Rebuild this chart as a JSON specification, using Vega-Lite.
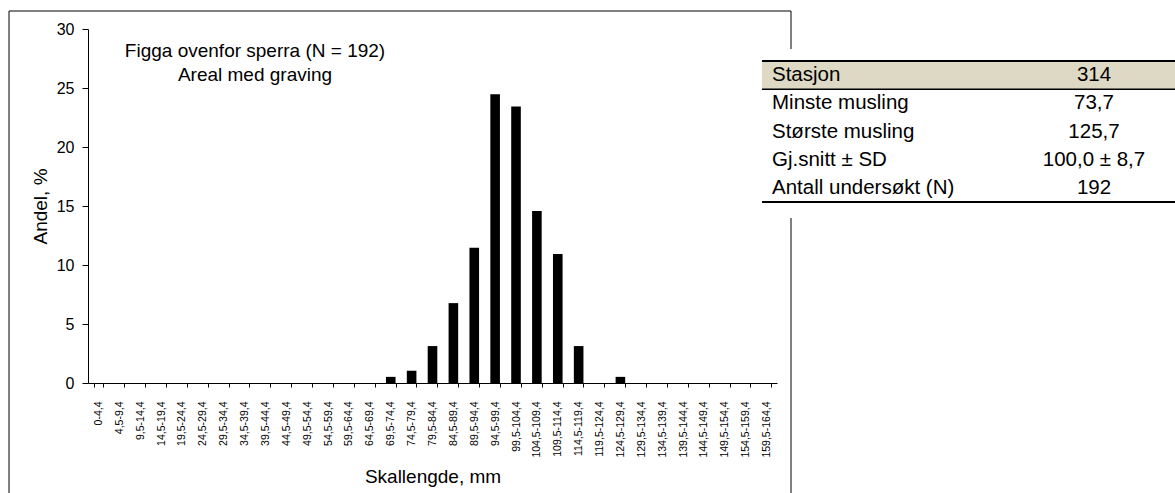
{
  "$schema": "https://vega.github.io/schema/vega-lite/v6.json",
  "width": 782,
  "height": 482,
  "autosize": {"type": "none"},
  "padding": {"left": 9, "top": 11, "right": 384, "bottom": 0},
  "background": "white",
  "config": {"view": {"stroke": null}, "font": "Liberation Sans"},
  "title": {
    "text": ["Figga ovenfor sperra (N = 192)", "Areal med graving"],
    "anchor": "middle",
    "frame": "group",
    "offset": 0,
    "dx": -145,
    "dy": 74,
    "baseline": "top",
    "fontSize": 19,
    "fontWeight": "normal",
    "font": "Liberation Sans",
    "color": "black",
    "lineHeight": 24
  },
  "datasets": {
    "lengder": [
      {"klasse": "0-4,4", "andel": 0},
      {"klasse": "4,5-9,4", "andel": 0},
      {"klasse": "9,5-14,4", "andel": 0},
      {"klasse": "14,5-19,4", "andel": 0},
      {"klasse": "19,5-24,4", "andel": 0},
      {"klasse": "24,5-29,4", "andel": 0},
      {"klasse": "29,5-34,4", "andel": 0},
      {"klasse": "34,5-39,4", "andel": 0},
      {"klasse": "39,5-44,4", "andel": 0},
      {"klasse": "44,5-49,4", "andel": 0},
      {"klasse": "49,5-54,4", "andel": 0},
      {"klasse": "54,5-59,4", "andel": 0},
      {"klasse": "59,5-64,4", "andel": 0},
      {"klasse": "64,5-69,4", "andel": 0},
      {"klasse": "69,5-74,4", "andel": 0.52},
      {"klasse": "74,5-79,4", "andel": 1.04},
      {"klasse": "79,5-84,4", "andel": 3.13},
      {"klasse": "84,5-89,4", "andel": 6.77},
      {"klasse": "89,5-94,4", "andel": 11.46},
      {"klasse": "94,5-99,4", "andel": 24.48},
      {"klasse": "99,5-104,4", "andel": 23.44},
      {"klasse": "104,5-109,4", "andel": 14.58},
      {"klasse": "109,5-114,4", "andel": 10.94},
      {"klasse": "114,5-119,4", "andel": 3.13},
      {"klasse": "119,5-124,4", "andel": 0},
      {"klasse": "124,5-129,4", "andel": 0.52},
      {"klasse": "129,5-134,4", "andel": 0},
      {"klasse": "134,5-139,4", "andel": 0},
      {"klasse": "139,5-144,4", "andel": 0},
      {"klasse": "144,5-149,4", "andel": 0},
      {"klasse": "149,5-154,4", "andel": 0},
      {"klasse": "154,5-159,4", "andel": 0},
      {"klasse": "159,5-164,4", "andel": 0}
    ],
    "tabell": [
      {"egenskap": "Stasjon", "verdi": "314"},
      {"egenskap": "Minste musling", "verdi": "73,7"},
      {"egenskap": "Største musling", "verdi": "125,7"},
      {"egenskap": "Gj.snitt ± SD", "verdi": "100,0 ± 8,7"},
      {"egenskap": "Antall undersøkt (N)", "verdi": "192"}
    ],
    "ramme": [{"del": "ramme"}]
  },
  "layer": [
    {
      "data": {"name": "ramme"},
      "mark": {"type": "rect", "filled": false, "stroke": "black", "strokeWidth": 1},
      "encoding": {
        "x": {"datum": 0, "type": "quantitative", "scale": {"domain": [0, 1], "range": [0, 782]}, "axis": null},
        "x2": {"datum": 1},
        "y": {"datum": 0, "type": "quantitative", "scale": {"domain": [0, 1], "range": [0, 486]}, "axis": null},
        "y2": {"datum": 1}
      }
    },
    {
      "data": {"name": "lengder"},
      "mark": {"type": "bar", "color": "black"},
      "encoding": {
        "x": {
          "field": "klasse",
          "type": "nominal",
          "sort": null,
          "scale": {"type": "band", "range": [79, 768], "paddingInner": 0.54, "paddingOuter": 0.27},
          "axis": {
            "title": "Skallengde, mm",
            "orient": "bottom",
            "offset": -110,
            "labelAngle": 270,
            "labelFontSize": 10.5,
            "labelColor": "black",
            "labelPadding": 14,
            "tickSize": 4,
            "tickBand": "extent",
            "tickColor": "black",
            "domainColor": "black",
            "grid": false,
            "titleFontSize": 19,
            "titleFontWeight": "normal",
            "titleColor": "black",
            "titleY": 99,
            "titleBaseline": "alphabetic"
          }
        },
        "y": {
          "field": "andel",
          "type": "quantitative",
          "scale": {"domain": [0, 30], "range": [372, 18], "nice": false},
          "axis": {
            "title": "Andel, %",
            "orient": "left",
            "offset": -79,
            "values": [0, 5, 10, 15, 20, 25, 30],
            "grid": false,
            "labelFontSize": 16,
            "labelColor": "black",
            "labelPadding": 8,
            "tickSize": 6,
            "tickColor": "black",
            "domainColor": "black",
            "titleFontSize": 19,
            "titleFontWeight": "normal",
            "titleColor": "black",
            "titleX": -42,
            "titleBaseline": "alphabetic"
          }
        }
      }
    },
    {
      "data": {"name": "ramme"},
      "mark": {"type": "rect", "color": "white"},
      "encoding": {
        "x": {"datum": 0, "type": "quantitative", "scale": {"domain": [0, 1], "range": [753, 1166]}, "axis": null},
        "x2": {"datum": 1},
        "y": {"datum": 0, "type": "quantitative", "scale": {"domain": [0, 1], "range": [38, 207]}, "axis": null},
        "y2": {"datum": 1}
      }
    },
    {
      "data": {"name": "tabell"},
      "transform": [{"filter": "datum.egenskap === 'Stasjon'"}],
      "mark": {"type": "rect", "color": "#ddd9c4"},
      "encoding": {
        "x": {"datum": "tabell", "type": "nominal", "scale": {"type": "band", "domain": ["tabell"], "range": [753, 1166], "padding": 0}, "axis": null},
        "y": {"field": "egenskap", "type": "nominal", "sort": null, "scale": {"type": "band", "domain": ["Stasjon", "Minste musling", "Største musling", "Gj.snitt ± SD", "Antall undersøkt (N)"], "range": [50, 191], "padding": 0}, "axis": null}
      }
    },
    {
      "data": {"name": "tabell"},
      "transform": [{"filter": "datum.egenskap === 'Stasjon'"}],
      "mark": {"type": "rule", "color": "black", "strokeWidth": 2},
      "encoding": {
        "x": {"datum": 0, "type": "quantitative", "scale": {"domain": [0, 1], "range": [753, 1166]}, "axis": null},
        "x2": {"datum": 1},
        "y": {"field": "egenskap", "type": "nominal", "bandPosition": 0, "sort": null, "scale": {"type": "band", "domain": ["Stasjon", "Minste musling", "Største musling", "Gj.snitt ± SD", "Antall undersøkt (N)"], "range": [50, 191], "padding": 0}, "axis": null}
      }
    },
    {
      "data": {"name": "tabell"},
      "transform": [{"filter": "datum.egenskap === 'Minste musling'"}],
      "mark": {"type": "rule", "color": "black", "strokeWidth": 1.5},
      "encoding": {
        "x": {"datum": 0, "type": "quantitative", "scale": {"domain": [0, 1], "range": [753, 1166]}, "axis": null},
        "x2": {"datum": 1},
        "y": {"field": "egenskap", "type": "nominal", "bandPosition": 0, "sort": null, "scale": {"type": "band", "domain": ["Stasjon", "Minste musling", "Største musling", "Gj.snitt ± SD", "Antall undersøkt (N)"], "range": [50, 191], "padding": 0}, "axis": null}
      }
    },
    {
      "data": {"name": "tabell"},
      "transform": [{"filter": "datum.egenskap === 'Antall undersøkt (N)'"}],
      "mark": {"type": "rule", "color": "black", "strokeWidth": 2},
      "encoding": {
        "x": {"datum": 0, "type": "quantitative", "scale": {"domain": [0, 1], "range": [753, 1166]}, "axis": null},
        "x2": {"datum": 1},
        "y": {"field": "egenskap", "type": "nominal", "bandPosition": 1, "sort": null, "scale": {"type": "band", "domain": ["Stasjon", "Minste musling", "Største musling", "Gj.snitt ± SD", "Antall undersøkt (N)"], "range": [50, 191], "padding": 0}, "axis": null}
      }
    },
    {
      "data": {"name": "tabell"},
      "mark": {"type": "text", "align": "left", "baseline": "middle", "fontSize": 20.5, "color": "black"},
      "encoding": {
        "x": {"datum": "etikett", "type": "nominal", "scale": {"type": "point", "domain": ["etikett", "verdi"], "range": [763, 1085], "padding": 0}, "axis": null},
        "y": {"field": "egenskap", "type": "nominal", "sort": null, "scale": {"type": "band", "domain": ["Stasjon", "Minste musling", "Største musling", "Gj.snitt ± SD", "Antall undersøkt (N)"], "range": [50, 191], "padding": 0}, "axis": null},
        "text": {"field": "egenskap"}
      }
    },
    {
      "data": {"name": "tabell"},
      "mark": {"type": "text", "align": "center", "baseline": "middle", "fontSize": 20.5, "color": "black"},
      "encoding": {
        "x": {"datum": "verdi", "type": "nominal", "scale": {"type": "point", "domain": ["etikett", "verdi"], "range": [763, 1085], "padding": 0}, "axis": null},
        "y": {"field": "egenskap", "type": "nominal", "sort": null, "scale": {"type": "band", "domain": ["Stasjon", "Minste musling", "Største musling", "Gj.snitt ± SD", "Antall undersøkt (N)"], "range": [50, 191], "padding": 0}, "axis": null},
        "text": {"field": "verdi"}
      }
    }
  ],
  "resolve": {"scale": {"x": "independent", "y": "independent"}}
}
